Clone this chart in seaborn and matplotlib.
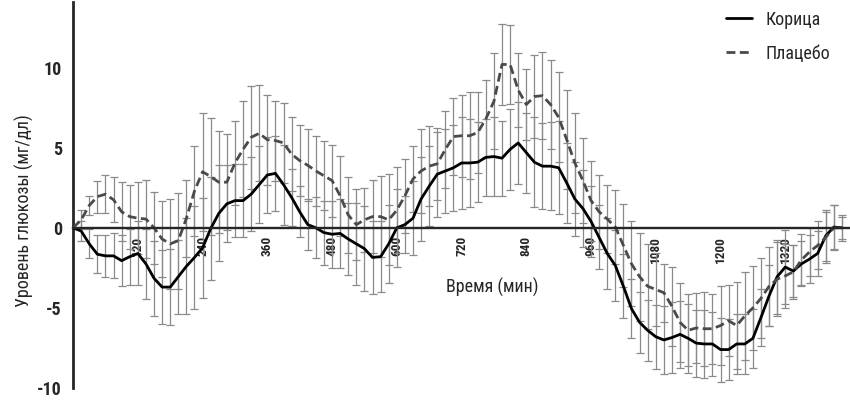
import matplotlib
matplotlib.use("Agg")
import matplotlib.pyplot as plt
from matplotlib import font_manager
import numpy as np
import pandas as pd
import seaborn as sns

# sampling times, min
TIME = [
    0, 15, 30, 45, 60, 75, 90, 105, 120, 135, 150, 165,
    180, 195, 210, 225, 240, 255, 270, 285, 300, 315, 330, 345,
    360, 375, 390, 405, 420, 435, 450, 465, 480, 495, 510, 525,
    540, 555, 570, 585, 600, 615, 630, 645, 660, 675, 690, 705,
    720, 735, 750, 765, 780, 795, 810, 825, 840, 855, 870, 885,
    900, 915, 930, 945, 960, 975, 990, 1005, 1020, 1035, 1050, 1065,
    1080, 1095, 1110, 1125, 1140, 1155, 1170, 1185, 1200, 1215, 1230, 1245,
    1260, 1275, 1290, 1305, 1320, 1335, 1350, 1365, 1380, 1395, 1410, 1425,
]

CINNAMON = [
    0.0, -0.2, -1.0, -1.65, -1.75, -1.75, -2.05, -1.8, -1.6, -2.25, -3.15, -3.7,
    -3.7, -3.05, -2.4, -1.85, -1.25, -0.05, 0.9, 1.5, 1.7, 1.7, 2.1, 2.7,
    3.3, 3.4, 2.7, 1.9, 1.0, 0.2, 0.0, -0.3, -0.4, -0.35, -0.7, -1.0,
    -1.3, -1.85, -1.8, -1.0, 0.0, 0.2, 0.6, 1.8, 2.6, 3.35, 3.55, 3.75,
    4.05, 4.05, 4.1, 4.4, 4.45, 4.35, 4.9, 5.3, 4.7, 4.1, 3.85, 3.85,
    3.75, 2.8, 1.8, 1.2, 0.4, -0.6, -1.6, -2.35, -3.65, -5.05, -5.9, -6.4,
    -6.8, -7.0, -6.85, -6.65, -6.9, -7.2, -7.25, -7.25, -7.6, -7.6, -7.25, -7.25,
    -6.9, -5.6, -4.25, -3.05, -2.45, -2.7, -2.25, -1.95, -1.6, -0.5, 0.05, 0.0,
]

PLACEBO = [
    0.0, 0.5, 1.4, 1.95, 2.1, 1.75, 1.0, 0.7, 0.6, 0.55, 0.0, -0.7,
    -1.0, -0.8, 0.6, 2.3, 3.5, 3.2, 2.85, 2.85, 4.05, 4.9, 5.65, 5.9,
    5.5, 5.45, 5.3, 4.6, 4.2, 3.9, 3.55, 3.25, 2.95, 2.0, 0.8, 0.2,
    0.5, 0.7, 0.7, 0.5, 1.1, 2.0, 3.05, 3.55, 3.85, 4.0, 4.9, 5.7,
    5.75, 5.75, 5.95, 6.8, 7.9, 10.2, 10.2, 8.6, 7.7, 8.2, 8.25, 7.7,
    6.9, 5.5, 4.05, 2.95, 1.7, 1.0, 0.55, 0.05, -1.1, -2.25, -3.05, -3.65,
    -3.85, -4.05, -4.9, -5.9, -6.4, -6.25, -6.3, -6.3, -6.1, -5.8, -6.1, -5.5,
    -5.0, -4.4, -3.65, -3.2, -3.0, -2.75, -2.0, -1.5, -1.1, -0.6, 0.0, 0.0,
]

CINNAMON_SEM = [
    0.0, 0.6, 0.9, 1.2, 1.3, 1.4, 1.6, 1.75, 2.0, 2.2, 2.35, 2.3,
    2.35, 2.3, 3.0, 3.2, 3.1, 3.2, 3.0, 2.4, 2.3, 2.3, 2.3, 2.4,
    2.4, 2.35, 2.5, 1.8, 1.6, 1.6, 1.9, 2.0, 2.1, 2.15, 2.25, 2.55,
    2.65, 2.25, 2.2, 2.45, 2.45, 1.8, 2.3, 2.6, 2.5, 2.65, 2.6, 2.7,
    2.85, 2.75, 2.5, 2.4, 2.45, 2.35, 2.55, 2.55, 2.5, 2.8, 2.7, 2.75,
    2.9, 2.5, 2.3, 2.4, 2.2, 2.0, 2.2, 2.2, 2.0, 1.85, 1.9, 1.9,
    2.0, 2.15, 2.2, 2.1, 2.15, 2.1, 2.1, 2.0, 2.0, 1.9, 1.9, 1.9,
    1.85, 1.8, 1.9, 2.3, 2.3, 1.6, 1.4, 1.5, 1.4, 1.6, 1.4, 0.7,
]

PLACEBO_SEM = [
    0.0, 0.6, 0.6, 1.0, 1.2, 1.4, 1.85, 2.0, 2.25, 2.45, 2.25, 2.35,
    2.8, 3.0, 2.4, 2.8, 3.7, 3.65, 3.2, 3.0, 2.6, 3.0, 3.2, 3.0,
    2.8, 2.5, 2.5, 2.3, 2.2, 2.25, 2.2, 2.15, 2.25, 2.5, 2.35, 2.2,
    2.0, 2.3, 2.55, 2.85, 2.7, 2.3, 2.05, 2.6, 2.5, 2.25, 2.4, 2.4,
    2.55, 2.7, 2.5, 2.4, 3.0, 2.5, 2.45, 2.3, 2.2, 2.6, 2.7, 2.8,
    2.8, 3.1, 3.1, 2.65, 2.5, 2.3, 2.1, 2.3, 2.6, 2.65, 2.75, 2.65,
    2.25, 1.8, 2.45, 2.45, 2.25, 2.2, 2.3, 2.2, 2.45, 2.2, 2.7, 2.75,
    2.6, 2.5, 2.45, 2.3, 2.0, 1.7, 1.6, 1.5, 1.5, 1.6, 1.4, 0.8,
]

GROUPS = ["Корица", "Плацебо"]
X_TICKS = [120, 240, 360, 480, 600, 720, 840, 960, 1080, 1200, 1320]
Y_TICKS = [-10, -5, 0, 5, 10]

# a narrow face if one is installed, otherwise Roboto
installed = {f.name for f in font_manager.fontManager.ttflist}
families = [f for f in ["Roboto Condensed", "Liberation Sans Narrow", "Roboto"]
            if f in installed] + ["DejaVu Sans"]

sns.set_style("white")
plt.rcParams["font.family"] = families

df = pd.DataFrame({
    "time": TIME * 2,
    "glucose": CINNAMON + PLACEBO,
    "sem": CINNAMON_SEM + PLACEBO_SEM,
    "group": [GROUPS[0]] * len(TIME) + [GROUPS[1]] * len(TIME),
})

fig = plt.figure(figsize=(8.5, 4), dpi=100)
ax = fig.add_axes([0.086, 0.03, 0.914, 0.965])

for name in GROUPS:
    sub = df[df["group"] == name]
    ax.errorbar(sub["time"], sub["glucose"], yerr=sub["sem"], fmt="none",
                ecolor="#8a8a8a", elinewidth=0.9, capsize=2.8, capthick=0.9,
                zorder=1)

sns.lineplot(data=df, x="time", y="glucose", hue="group", style="group",
             palette={"Корица": "black", "Плацебо": "#4a4a4a"},
             dashes={"Корица": "", "Плацебо": (3.2, 1.6)},
             linewidth=2.0, ax=ax, zorder=3, legend=False)

ax.set_xlim(0, 1440)
ax.set_ylim(-10, 14.1)

for side in ["top", "right"]:
    ax.spines[side].set_visible(False)
ax.spines["bottom"].set_position(("data", 0))
ax.spines["bottom"].set_linewidth(1.7)
ax.spines["bottom"].set_zorder(4)
ax.spines["left"].set_linewidth(2.0)

ax.set_xticks(X_TICKS)
ax.set_xticklabels([str(t) for t in X_TICKS], rotation=90, fontsize=9.5,
                   fontweight="bold")
ax.set_yticks(Y_TICKS)
ax.set_yticklabels([str(v) for v in Y_TICKS], fontsize=13, fontweight="bold")
ax.tick_params(axis="x", direction="out", length=4, width=1.5, pad=2)
ax.tick_params(axis="y", direction="out", length=5, width=1.8, pad=3)

ax.set_xlabel("")
ax.set_ylabel("Уровень глюкозы (мг/дл)", fontsize=13)
ax.yaxis.set_label_coords(-0.05, 0.46)
ax.text(776, -3.7, "Время (мин)", fontsize=13, ha="center", va="center")

handles = [
    plt.Line2D([], [], color="black", lw=2.0),
    plt.Line2D([], [], color="#4a4a4a", lw=2.0, dashes=(3.2, 1.6)),
]
ax.legend(handles, GROUPS, loc="upper right", bbox_to_anchor=(0.995, 1.02),
          frameon=False, fontsize=13, handlelength=1.45, labelspacing=0.9,
          handletextpad=0.7)

fig.savefig("out.png", dpi=100)
